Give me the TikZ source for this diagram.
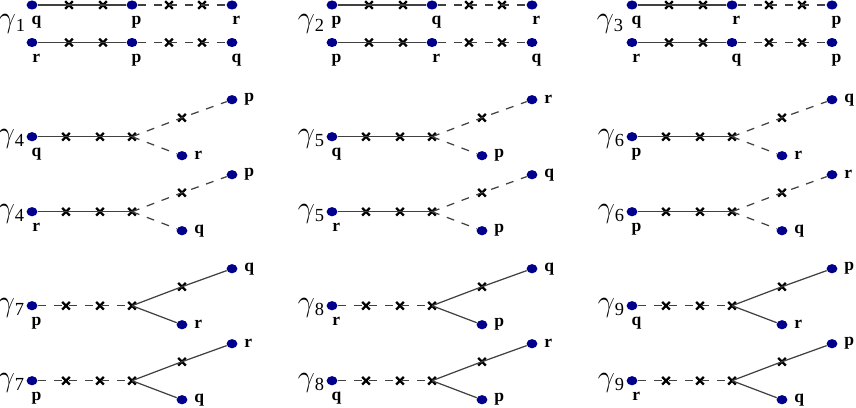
\documentclass[tikz,border=0pt]{standalone}
\usepackage{fontspec}
\setmainfont{Liberation Serif}
\usetikzlibrary{shapes.geometric,shapes.misc}

\definecolor{dotblue}{RGB}{0,0,140}

\newcommand{\gsub}[1]{{\fontsize{17}{17}\selectfont$\gamma$}\raisebox{-2.5pt}{\fontsize{10.5}{10.5}\selectfont #1}}

% straight chain: id, x, y, three labels
\newcommand{\chainrow}[6]{%
\node[dot, label={[dlbl]below:#4}] (#1a) at (#2,#3) {};
\node[xmark] (#1x1) at (#2+37,#3) {};
\node[xmark] (#1x2) at (#2+71,#3) {};
\node[dot, label={[dlbl]below:#5}] (#1b) at (#2+100,#3) {};
\node[xmark] (#1x3) at (#2+137,#3) {};
\node[xmark] (#1x4) at (#2+170,#3) {};
\node[dot, label={[dlbl]below:#6}] (#1c) at (#2+200,#3) {};
\draw[fullline] (#1a) -- (#1x1.center) -- (#1x2.center) -- (#1b);
\draw[dashline] (#1b) -- (#1x3.center) -- (#1x4.center) -- (#1c);
}

% fork: id, x, y, index, left/upper/lower label, stem style, branch style
\newcommand{\forkrow}[9]{%
\node[gam] (#1g) at (#2-21,#3+2) {\gsub{#4}};
\node[dot, label={[dlbl]below:#5}] (#1a) at (#2,#3) {};
\node[xmark] (#1x1) at (#2+34,#3) {};
\node[xmark] (#1x2) at (#2+68,#3) {};
\node[xmark] (#1v) at (#2+100,#3) {};
\node[xmark] (#1x3) at (#2+150,#3-19) {};
\node[dot, label={[lbl]right:#6}] (#1u) at (#2+200,#3-37) {};
\node[dot, label={[lbl]right:#7}] (#1d) at (#2+150,#3+19) {};
\draw[#8] (#1a) -- (#1x1.center) -- (#1x2.center) -- (#1v.center);
\draw[#9] (#1v.center) -- (#1x3.center) -- (#1u);
\draw[#9] (#1v.center) -- (#1d);
}

\begin{document}
\begin{tikzpicture}
[x=0.02cm, y=-0.02cm,
 dot/.style={ellipse, fill=dotblue, inner sep=0pt, minimum width=6.2pt, minimum height=5.2pt},
 xmark/.style={cross out, draw=black, line width=1.3pt, inner sep=0pt, minimum size=3pt},
 lbl/.style={font=\bfseries\fontsize{10}{10}\selectfont, inner sep=1pt, label distance=2.5pt},
 dlbl/.style={lbl, xshift=2.5pt},
 gam/.style={inner sep=0pt},
 fullline/.style={draw=black!75, line width=0.7pt},
 dashline/.style={draw=black!75, line width=0.7pt, dash pattern=on 4.5pt off 4.5pt}]

\useasboundingbox (0,0) rectangle (856,407);

%Straight chains
\node[gam] (g1) at (12,24) {\gsub{1}};
\chainrow{a1}{32}{5}{q}{p}{r}
\chainrow{b1}{32}{42.5}{r}{p}{q}
\node[gam] (g2) at (311,24) {\gsub{2}};
\chainrow{a2}{332}{5}{p}{q}{r}
\chainrow{b2}{332}{42.5}{p}{r}{q}
\node[gam] (g3) at (610,24) {\gsub{3}};
\chainrow{a3}{632}{5}{q}{r}{p}
\chainrow{b3}{632}{42.5}{r}{q}{p}

%Forks with solid stem
\forkrow{a4}{32}{136.7}{4}{q}{p}{r}{fullline}{dashline}
\forkrow{b4}{32}{211.7}{4}{r}{p}{q}{fullline}{dashline}
\forkrow{a5}{332}{136.7}{5}{q}{r}{p}{fullline}{dashline}
\forkrow{b5}{332}{211.7}{5}{r}{q}{p}{fullline}{dashline}
\forkrow{a6}{632}{136.7}{6}{p}{q}{r}{fullline}{dashline}
\forkrow{b6}{632}{211.7}{6}{p}{r}{q}{fullline}{dashline}

%Forks with dashed stem
\forkrow{a7}{32}{305.7}{7}{p}{q}{r}{dashline}{fullline}
\forkrow{b7}{32}{380.7}{7}{p}{r}{q}{dashline}{fullline}
\forkrow{a8}{332}{305.7}{8}{r}{q}{p}{dashline}{fullline}
\forkrow{b8}{332}{380.7}{8}{q}{r}{p}{dashline}{fullline}
\forkrow{a9}{632}{305.7}{9}{q}{p}{r}{dashline}{fullline}
\forkrow{b9}{632}{380.7}{9}{r}{p}{q}{dashline}{fullline}

\end{tikzpicture}
\end{document}
